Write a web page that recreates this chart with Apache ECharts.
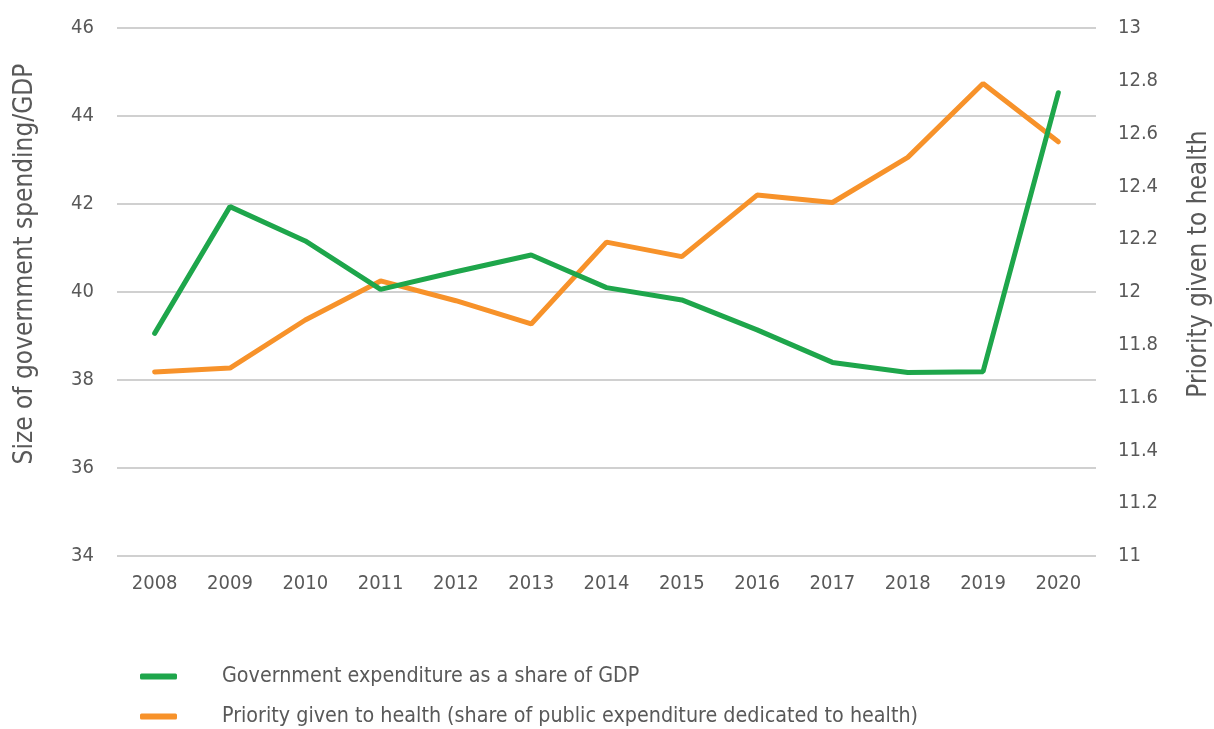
<!DOCTYPE html>
<html>
<head>
<meta charset="utf-8">
<script src="https://cdn.jsdelivr.net/npm/echarts@6/dist/echarts.min.js"></script>
<style>
  html, body { margin: 0; padding: 0; background: #fff; }
  #chart { width: 1214px; height: 729px; }
</style>
</head>
<body>
<div id="chart"></div>
<script>
// Years on the horizontal axis
const years = ['2008','2009','2010','2011','2012','2013','2014','2015','2016','2017','2018','2019','2020'];

// Government expenditure as a share of GDP (%), left axis
const govSpending = [39.06, 41.94, 41.16, 40.06, 40.46, 40.84, 40.10, 39.82, 39.14, 38.40, 38.17, 38.19, 44.53];

// Share of public expenditure dedicated to health (%), right axis
const healthPriority = [11.697, 11.712, 11.894, 12.042, 11.967, 11.879, 12.189, 12.134, 12.367, 12.339, 12.51, 12.79, 12.569];

const seriesNames = [
  'Government expenditure as a share of GDP',
  'Priority given to health (share of public expenditure dedicated to health)'
];

const GREEN = '#1ea64b';
const ORANGE = '#f7922a';
const TEXT = '#595959';
const FONT = '"DejaVu Sans Condensed", "Liberation Sans Narrow", sans-serif';

const chart = echarts.init(document.getElementById('chart'), null, { renderer: 'canvas' });

chart.setOption({
  backgroundColor: '#ffffff',
  animation: false,
  textStyle: { fontFamily: FONT, color: TEXT },
  grid: { left: 117, right: 118, top: 28, bottom: 173, containLabel: false, outerBoundsMode: 'none' },
  legend: {
    orient: 'vertical',
    left: 140,
    top: 666,
    padding: 0,
    itemWidth: 37,
    itemHeight: 6,
    itemGap: 19,
    icon: 'roundRect',
    textStyle: { fontFamily: FONT, fontSize: 21.3, color: TEXT, padding: [0, 0, 0, 40] },
    data: [
      { name: seriesNames[0], itemStyle: { color: GREEN } },
      { name: seriesNames[1], itemStyle: { color: ORANGE } }
    ]
  },
  xAxis: {
    type: 'category',
    data: years,
    boundaryGap: true,
    axisLine: { show: false },
    axisTick: { show: false },
    axisLabel: { color: TEXT, fontSize: 20, fontFamily: FONT, margin: 18 }
  },
  yAxis: [
    {
      type: 'value',
      min: 34,
      max: 46,
      interval: 2,
      position: 'left',
      name: 'Size of government spending/GDP',
      nameLocation: 'middle',
      nameRotate: 90,
      nameGap: 79,
      nameTextStyle: { color: TEXT, fontSize: 26, fontFamily: FONT, padding: [0, 0, 0, 56] },
      axisLine: { show: false },
      axisTick: { show: false },
      axisLabel: { color: TEXT, fontSize: 20, fontFamily: FONT, margin: 23 },
      splitLine: { show: true, lineStyle: { color: '#d0d0d0', width: 2 } }
    },
    {
      type: 'value',
      min: 11,
      max: 13,
      interval: 0.2,
      position: 'right',
      name: 'Priority given to health',
      nameLocation: 'middle',
      nameRotate: 90,
      nameGap: 90,
      nameTextStyle: { color: TEXT, fontSize: 26, fontFamily: FONT, padding: [0, 0, 0, 56] },
      axisLine: { show: false },
      axisTick: { show: false },
      axisLabel: {
        color: TEXT, fontSize: 20, fontFamily: FONT, margin: 22,
        formatter: v => String(Math.round(v * 10) / 10)
      },
      splitLine: { show: false }
    }
  ],
  series: [
    {
      name: seriesNames[0],
      type: 'line',
      yAxisIndex: 0,
      data: govSpending,
      symbol: 'none',
      color: GREEN,
      lineStyle: { color: GREEN, width: 5, cap: 'round' },
      z: 3
    },
    {
      name: seriesNames[1],
      type: 'line',
      yAxisIndex: 1,
      data: healthPriority,
      symbol: 'none',
      color: ORANGE,
      lineStyle: { color: ORANGE, width: 5, cap: 'round' },
      z: 2
    }
  ]
});
</script>
</body>
</html>
